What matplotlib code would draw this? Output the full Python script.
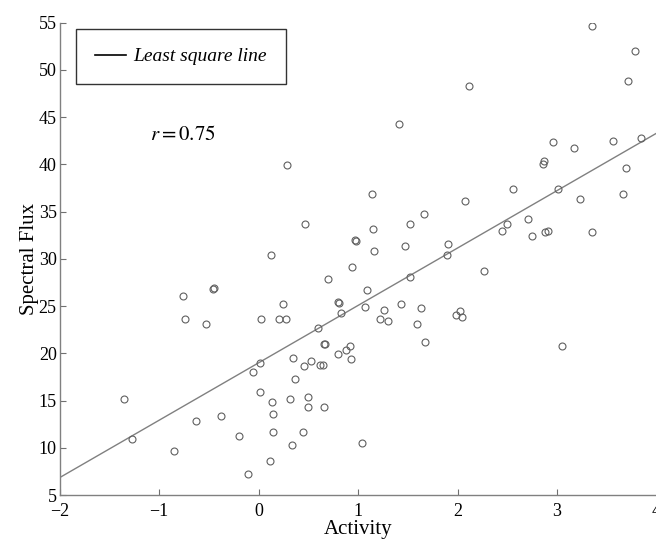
import numpy as np
import matplotlib.pyplot as plt
from matplotlib.lines import Line2D

plt.rcParams['font.family'] = ['Liberation Serif', 'DejaVu Serif']
plt.rcParams['mathtext.fontset'] = 'stix'

# points (Activity, Spectral Flux)
activity = [
    0.472, 0.130, -0.763, -0.462, -0.446, -0.740, -0.532, 0.023, 0.251, 0.204,
    0.274, 0.344, 0.016, -0.054, 0.455, 0.371, 0.020, 0.134, 0.317, 0.147,
    -1.349, -1.275, -0.633, -0.376, -0.195, -0.850, 0.141, 0.448, 0.341, 0.120,
    -0.110, 0.291, 1.138, 2.074, 1.660, 1.519, 1.148, 0.967, 0.975, 1.476,
    1.908, 1.891, 1.158, 0.937, 0.699, 1.522, 2.269, 1.094, 0.803, 0.813,
    0.829, 1.067, 1.258, 1.429, 1.637, 1.225, 1.298, 1.592, 1.981, 2.021,
    2.044, 1.670, 0.595, 0.659, 0.665, 0.799, 0.884, 0.917, 0.927, 0.532,
    0.622, 0.646, 0.502, 0.502, 0.659, 1.037, 3.349, 3.788, 3.718, 2.114,
    1.409, 2.955, 3.173, 3.567, 3.845, 2.867, 2.861, 3.691, 2.560, 3.012,
    3.665, 3.236, 2.707, 2.496, 2.446, 2.744, 2.882, 2.905, 3.349, 3.055,
]
flux = [
    33.64, 30.43, 26.09, 26.80, 26.87, 23.66, 23.06, 23.66, 25.18, 23.66,
    23.66, 19.53, 19.00, 17.98, 18.68, 17.24, 15.90, 14.81, 15.13, 13.60,
    15.19, 10.93, 12.86, 13.36, 11.21, 9.65, 11.63, 11.67, 10.32, 8.60,
    7.22, 39.95, 36.85, 36.14, 34.77, 33.71, 33.18, 31.95, 31.90, 31.38,
    31.53, 30.43, 30.82, 29.16, 27.86, 28.07, 28.70, 26.72, 25.39, 25.28,
    24.23, 24.86, 24.54, 25.21, 24.79, 23.62, 23.41, 23.09, 24.08, 24.44,
    23.83, 21.19, 22.67, 20.98, 21.00, 19.89, 20.34, 20.80, 19.42, 19.21,
    18.72, 18.79, 15.40, 14.31, 14.31, 10.50, 54.70, 52.02, 48.84, 48.35,
    44.29, 42.32, 41.75, 42.46, 42.78, 40.34, 40.03, 39.57, 37.41, 37.41,
    36.82, 36.29, 34.17, 33.68, 32.90, 32.41, 32.83, 32.90, 32.83, 20.80,
]

# least square line as drawn in the reference
fit_x = [-2, 4]
fit_y = [6.83, 43.3]

xticks = [-2, -1, 0, 1, 2, 3, 4]
yticks = [5, 10, 15, 20, 25, 30, 35, 40, 45, 50, 55]

fig = plt.figure(figsize=(6.56, 5.39), dpi=100)
ax = fig.add_axes([59.5 / 656, 44 / 539, 597 / 656, 472.3 / 539])

ax.plot(fit_x, fit_y, color='#808080', lw=1.0, zorder=2)
ax.plot(activity, flux, 'o', ms=5, mfc='none', mec='#606060', mew=0.8, zorder=3)

ax.set_xlim(-2, 4)
ax.set_ylim(5, 55)
ax.set_xticks(xticks)
ax.set_yticks(yticks)
ax.set_xticklabels([str(t).replace('-', '\u2212') for t in xticks])
ax.tick_params(direction='in', length=4, width=0.8, color='#707070',
               labelsize=13, pad=2)
ax.tick_params(axis='x', pad=6)

for s in ['top', 'right']:
    ax.spines[s].set_visible(False)
for s in ['left', 'bottom']:
    ax.spines[s].set_color('#808080')
    ax.spines[s].set_linewidth(1.0)

ax.set_xlabel('Activity', fontsize=15, labelpad=0)
ax.set_ylabel('Spectral Flux', fontsize=15, labelpad=0)

ax.text(-0.76, 43.1, r'$r = 0.75$', fontsize=15, ha='center', va='center')

handle = Line2D([], [], color='black', lw=1.2)
leg = ax.legend([handle], ['Least square line'], loc='upper left',
                bbox_to_anchor=(0.028, 0.986), prop={'style': 'italic', 'size': 14},
                frameon=True, fancybox=False, edgecolor='black', borderpad=0.95,
                handlelength=1.6, handletextpad=0.4, borderaxespad=0)
leg.get_frame().set_linewidth(1.0)

fig.savefig('out.png', dpi=100)
